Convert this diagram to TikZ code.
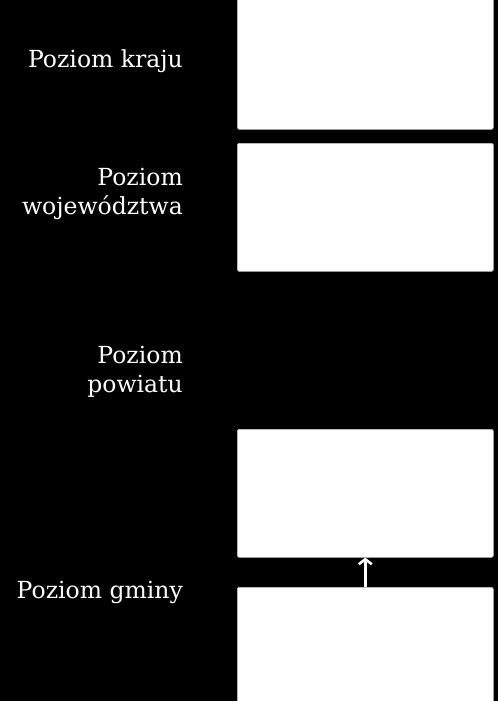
\documentclass[tikz,border=0pt]{standalone}
\usepackage{fontspec}
\setmainfont{DejaVu Serif}
\usetikzlibrary{arrows.meta}

\begin{document}
\begin{tikzpicture}[x=1pt,y=-1pt,
    levelbox/.style={draw=black!25, fill=white, line width=0.6pt,
      rounded corners=1.5pt, minimum width=256pt, anchor=north west,
      inner sep=0pt},
    levelname/.style={text=white, align=right, anchor=base east,
      inner sep=0pt, font=\fontsize{23.5}{28.5}\selectfont}]
        \useasboundingbox [fill=black] (0,0) rectangle (498,701);
        %
        \node [levelbox, minimum height=131pt] (kraj) at (237,-2) {};
        \node [levelbox, minimum height=128pt] (woj) at (237,143) {};
        \node [levelbox, minimum height=128pt] (gminaGorna) at (237,429) {};
        \node [levelbox, minimum height=118pt] (gminaDolna) at (237,587) {};
        %
        \node [levelname] (nKraj) at (183,67) {Poziom kraju};
        \node [levelname] (nWoj) at (183,214) {Poziom\\województwa};
        \node [levelname] (nPowiat) at (183,392) {Poziom\\powiatu};
        \node [levelname] (nGmina) at (183,598) {Poziom gminy};
        %
        \draw [white, line width=2.6pt,
          -{Straight Barb[length=5pt,width=13pt]}]
        (gminaDolna.north) -- (gminaGorna.south);
      \end{tikzpicture}
\end{document}
